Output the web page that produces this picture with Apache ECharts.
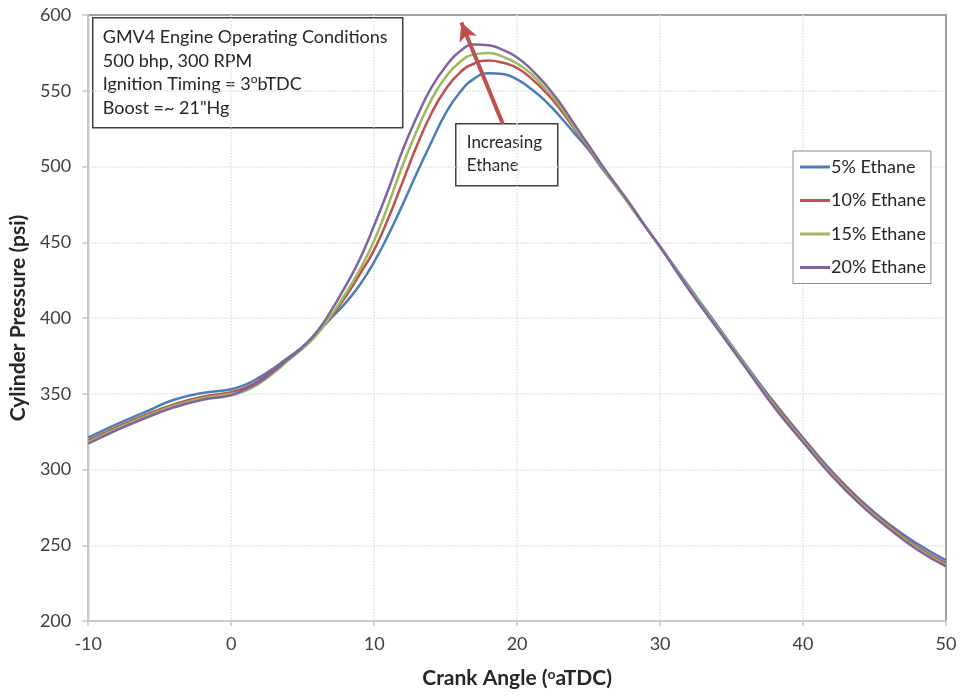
<!DOCTYPE html>
<html>
<head>
    <meta charset="utf-8">
    <title>Cylinder Pressure vs Crank Angle</title>
    <script src="https://cdn.jsdelivr.net/npm/echarts@6/dist/echarts.min.js"></script>
    <style>
        html, body { margin: 0; padding: 0; background: #fff; }
        #chart1 { width: 961px; height: 696px; }
    </style>
</head>
<body>
<div id="chart1"></div>
<script type="text/javascript">
    // crank angle (deg aTDC)
    var angles = [-10, -8, -6, -4, -2,
        0, 1, 2, 3, 4, 5, 6, 7, 8, 9, 10, 11, 12, 13, 14, 15, 16, 17, 18, 19, 20,
        21, 22, 23, 24, 25, 26, 27, 28, 29, 30,
        32, 34, 36, 38, 40, 42, 44, 46, 48, 50];

    // cylinder pressure (psi)
    var eth5 = [321, 330, 338, 346, 350.5,
        353, 356, 361, 367, 374, 381, 390, 400, 410, 422, 437, 455, 475, 496, 516, 535, 549, 558, 561.5, 561, 557.5,
        551, 543, 533, 522, 511, 498, 486, 473, 460, 447,
        421, 395, 369, 344, 321, 299, 280, 264, 251, 240];
    var eth10 = [319, 328, 336, 343, 348,
        351, 354, 359, 366, 373, 380, 390, 401, 414, 429, 445, 466, 490, 514, 535, 551, 562, 568, 570, 568.5, 565,
        558, 549, 538, 525, 512, 499, 486, 473, 460, 447,
        420, 394, 368, 343, 320, 298, 279, 263, 249, 238];
    var eth15 = [318, 327, 335, 342, 347,
        350, 352, 357, 364, 372, 380, 389, 402, 416, 432, 451, 475, 501, 524, 544, 559, 569, 574, 575, 572.5, 568,
        561, 551, 540, 526, 513, 499, 486, 473, 460, 447,
        420, 394, 368, 342, 319, 297, 278, 262, 248, 237];
    var eth20 = [317, 326, 334, 341, 346,
        349, 353, 358, 365, 373, 381, 391, 405, 421, 439, 461, 485, 511, 533, 552, 566, 576, 580.5, 580, 577, 572,
        564, 554, 542, 528, 514, 500, 487, 474, 460, 447,
        419, 393, 367, 341, 318, 296, 277, 261, 247, 236];

    var seriesNames = ['5% Ethane', '10% Ethane', '15% Ethane', '20% Ethane'];
    var seriesColors = ['#4a7ebb', '#c0504d', '#9bbb59', '#8064a2'];
    var seriesValues = [eth5, eth10, eth15, eth20];

    // arrow "Increasing Ethane": from box top to tip, in data units
    var arrowFrom = [19.0, 528];
    var arrowTo = [16.1, 595];

    var font = 'Lato, "Open Sans", sans-serif';

    function pairs(vals) {
        return angles.map(function (a, i) { return [a, vals[i]]; });
    }

    var series = seriesValues.map(function (vals, k) {
        return {
            name: seriesNames[k],
            type: 'line',
            smooth: true,
            showSymbol: false,
            data: pairs(vals),
            lineStyle: { color: seriesColors[k], width: 2.5 },
            itemStyle: { color: seriesColors[k] },
            z: 2 + k
        };
    });
    series[0].markLine = {
        silent: true,
        symbol: ['none', 'arrow'],
        symbolSize: [14, 18],
        label: { show: false },
        lineStyle: { color: '#c0504d', width: 4, type: 'solid' },
        data: [[{ coord: arrowFrom }, { coord: arrowTo }]],
        z: 10
    };

    var splitStyle = { show: true, showMinLine: false, showMaxLine: false,
        lineStyle: { color: '#d6e2f2', type: 'dotted', width: 1.5 } };

    var myChart = echarts.init(document.getElementById('chart1'));
    var option = {
        backgroundColor: '#ffffff',
        animation: false,
        textStyle: { fontFamily: font },
        grid: {
            left: 88, right: 15, top: 15, bottom: 75,
            show: true, borderColor: '#a0a0a0', borderWidth: 2,
            containLabel: false
        },
        legend: {
            orient: 'vertical',
            left: 793, top: 151,
            padding: [6, 5, 6, 7],
            itemWidth: 30, itemHeight: 3,
            itemGap: 13.5,
            icon: 'rect',
            borderColor: '#8c8c8c', borderWidth: 1,
            backgroundColor: '#fff',
            data: seriesNames,
            textStyle: { fontFamily: font, fontSize: 18, color: '#262626', lineHeight: 20, padding: [0, 0, 0, -4] }
        },
        xAxis: {
            type: 'value',
            min: -10, max: 50, interval: 10,
            name: 'Crank Angle ({sup|o}aTDC)',
            nameLocation: 'middle',
            nameGap: 46,
            nameTextStyle: {
                fontFamily: font, fontSize: 21, fontWeight: 'bold', color: '#262626',
                rich: {
                    sup: { fontSize: 14, fontWeight: 'bold', verticalAlign: 'top', padding: [0, 0, 9, 0], color: '#262626' }
                }
            },
            axisLine: { show: true, onZero: false, lineStyle: { color: '#c8c8c8', width: 2 } },
            axisTick: { show: true, length: 5, lineStyle: { color: '#c8c8c8', width: 1.5 } },
            axisLabel: { fontSize: 18, color: '#404040', margin: 14 },
            splitLine: splitStyle
        },
        yAxis: {
            type: 'value',
            min: 200, max: 600, interval: 50,
            name: 'Cylinder Pressure (psi)',
            nameLocation: 'middle',
            nameGap: 55,
            nameRotate: 90,
            nameTextStyle: { fontFamily: font, fontSize: 21, fontWeight: 'bold', color: '#262626' },
            axisLine: { show: true, onZero: false, lineStyle: { color: '#c8c8c8', width: 2 } },
            axisTick: { show: true, length: 6, lineStyle: { color: '#c8c8c8', width: 1.5 } },
            axisLabel: { fontSize: 18, color: '#404040', margin: 17 },
            splitLine: splitStyle
        },
        series: series,
        graphic: [
            {
                type: 'group', left: 92, top: 17, z: 20,
                children: [
                    { type: 'rect', shape: { x: 0, y: 0, width: 310, height: 110 },
                      style: { fill: '#fff', stroke: '#404040', lineWidth: 1.5 } },
                    { type: 'text', x: 10, y: 8,
                      style: {
                          text: 'GMV4 Engine Operating Conditions\n500 bhp, 300 RPM\nIgnition Timing = 3{sup|o}bTDC\nBoost =~ 21"Hg',
                          font: '18px ' + font, fill: '#262626', lineHeight: 23.5,
                          rich: {
                              sup: { fontSize: 12, verticalAlign: 'top', padding: [0, 0, 7, 0], fill: '#262626', fontFamily: font }
                          }
                      } }
                ]
            },
            {
                type: 'group', left: 455, top: 123, z: 20,
                children: [
                    { type: 'rect', shape: { x: 0, y: 0, width: 102, height: 62 },
                      style: { fill: '#fff', stroke: '#404040', lineWidth: 1.5 } },
                    { type: 'text', x: 11, y: 7.5,
                      style: { text: 'Increasing\nEthane', font: '17px ' + font, fill: '#262626', lineHeight: 23 } }
                ]
            }
        ]
    };
    myChart.setOption(option);
</script>
</body>
</html>
